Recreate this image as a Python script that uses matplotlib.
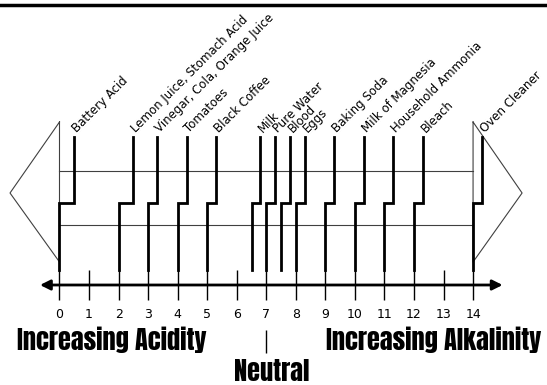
import matplotlib
matplotlib.use("Agg")
import matplotlib.pyplot as plt

# substances: pH where each marker leaves the scale, and pH where its label sits
substances = ["Battery Acid", "Lemon Juice, Stomach Acid", "Vinegar, Cola, Orange Juice",
              "Tomatoes", "Black Coffee", "Milk", "Pure Water", "Blood", "Eggs",
              "Baking Soda", "Milk of Magnesia", "Household Ammonia", "Bleach", "Oven Cleaner"]
ph_base = [0, 2, 3, 4, 5, 6.5, 7, 7.5, 8, 9, 10, 11, 12, 14]
ph_label = [0.5, 2.5, 3.3, 4.3, 5.3, 6.8, 7.3, 7.8, 8.3, 9.3, 10.3, 11.3, 12.3, 14.3]
ph_ticks = list(range(15))

# vertical layout (y grows downwards)
Y_TOP, Y_STEP, Y_BASE = 137, 203, 270
Y_AXIS, Y_TICK_END, Y_TICKLBL = 285, 300, 315
Y_SHAFT = (171, 225)
Y_HEAD = (122, 262)
Y_TIP = 193

fig = plt.figure(figsize=(5.47, 3.85), dpi=100)
ax = fig.add_axes([0, 0, 1, 1])
ax.set_xlim(-2.014, 16.503)
ax.set_ylim(385, 0)
ax.axis("off")

# top rule
ax.axhline(4.5, color="black", lw=2.5)

# big double-headed arrow outline
lo, hi = ph_ticks[0], ph_ticks[-1]
outline = dict(color="#404040", lw=0.8)
for y in Y_SHAFT:
    ax.plot([lo, hi], [y, y], **outline)
ax.plot([lo, lo - 1.675, lo, lo], [Y_HEAD[0], Y_TIP, Y_HEAD[1], Y_HEAD[0]], **outline)
ax.plot([hi, hi + 1.66, hi, hi], [Y_HEAD[0], Y_TIP, Y_HEAD[1], Y_HEAD[0]], **outline)

# substance markers and labels
for name, b, t in zip(substances, ph_base, ph_label):
    ax.plot([b, b, t, t], [Y_BASE, Y_STEP, Y_STEP, Y_TOP], color="black", lw=2,
            solid_joinstyle="miter")
    ax.annotate(name, (t, Y_TOP), xytext=(2, 3), textcoords="offset points",
                rotation=45, rotation_mode="anchor", ha="left", va="baseline",
                fontsize=8.5)

# pH scale
ax.annotate("", xy=(lo - 0.66, Y_AXIS), xytext=(hi + 1.0, Y_AXIS),
            arrowprops=dict(arrowstyle="<|-|>", lw=2, color="black",
                            mutation_scale=15, shrinkA=0, shrinkB=0))
ax.vlines(ph_ticks, Y_BASE, Y_TICK_END, color="black", lw=1)
for p in ph_ticks:
    ax.text(p, Y_TICKLBL, str(p), ha="center", va="center", fontsize=9)
ax.vlines(7, 330, 353, color="black", lw=1)

heavy = dict(family=["Anton", "DejaVu Sans"], fontsize=19, va="baseline")
ax.text(1.78, 350, "Increasing Acidity", ha="center", **heavy)
ax.text(12.66, 350, "Increasing Alkalinity", ha="center", **heavy)
ax.text(7.2, 381, "Neutral", ha="center", **heavy)

fig.savefig("out.png", dpi=100)
